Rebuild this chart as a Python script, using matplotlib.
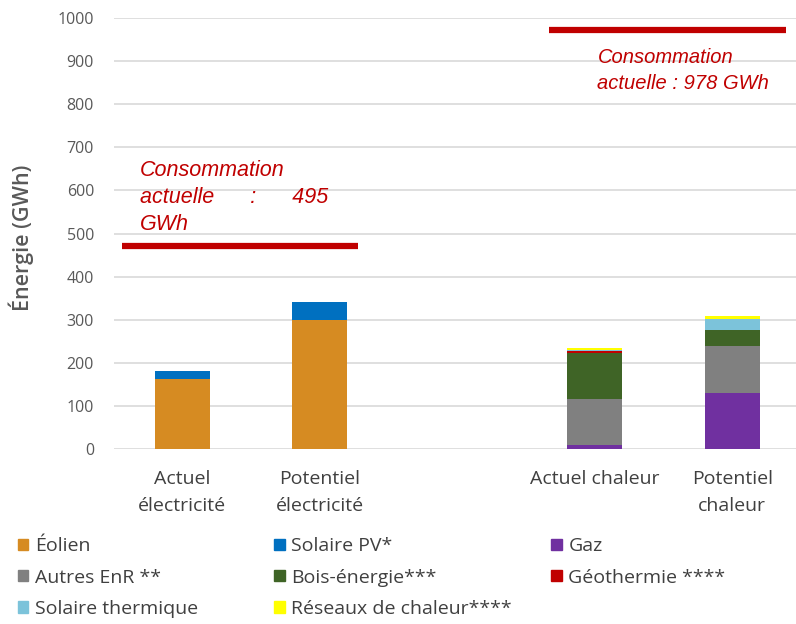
import matplotlib
matplotlib.use("Agg")
import matplotlib.pyplot as plt
import matplotlib.patches as mpatches

plt.rcParams["font.family"] = ["Open Sans", "DejaVu Sans"]

# categories (middle slot left empty, as in the original)
categories = ["Actuel\nélectricité", "Potentiel\nélectricité", "", "Actuel chaleur", "Potentiel\nchaleur"]
positions = [0, 1, 2, 3, 4]

series_names = ["Éolien", "Solaire PV*", "Gaz", "Autres EnR **", "Bois-énergie***",
                "Géothermie ****", "Solaire thermique", "Réseaux de chaleur****"]
series_colors = ["#D68B22", "#0070C0", "#7030A0", "#808080", "#3F6426",
                 "#C00000", "#7CC3DA", "#FFFF00"]

eolien      = [162, 299, 0, 0, 0]
solaire_pv  = [19, 41, 0, 0, 0]
gaz         = [0, 0, 0, 10, 131]
autres_enr  = [0, 0, 0, 106, 109]
bois        = [0, 0, 0, 106, 36]
geothermie  = [0, 0, 0, 5, 0]
sol_therm   = [0, 0, 0, 3, 26]
reseaux     = [0, 0, 0, 5, 6]
series_values = [eolien, solaire_pv, gaz, autres_enr, bois, geothermie, sol_therm, reseaux]

# consumption lines (drawn level, span in category units)
conso_elec = 472
conso_chal = 973
conso_elec_span = (-0.44, 1.28)
conso_chal_span = (2.67, 4.39)

fig = plt.figure(figsize=(7.96, 6.24), dpi=100)
ax = fig.add_axes([0.1426, 0.2804, 0.8574, 0.6907])

bottom = [0] * len(positions)
for name, color, vals in zip(series_names, series_colors, series_values):
    ax.bar(positions, vals, width=0.4, bottom=bottom, color=color, zorder=2)
    bottom = [b + v for b, v in zip(bottom, vals)]

ax.hlines(conso_elec, *conso_elec_span, color="#C00000", linewidth=4.5, zorder=3)
ax.hlines(conso_chal, *conso_chal_span, color="#C00000", linewidth=4.5, zorder=3)

red_font = dict(color="#C00000", style="italic", family=["Liberation Sans", "DejaVu Sans"])
ax.text(-0.31, 671, "Consommation\nactuelle      :      495\nGWh", ha="left", va="top",
        fontsize=15.5, linespacing=1.37, **red_font)
ax.text(3.02, 931, "Consommation\nactuelle : 978 GWh", ha="left", va="top",
        fontsize=14.5, linespacing=1.5, **red_font)

ax.set_xlim(-0.5, 4.464)
ax.set_ylim(0, 1000)
ax.set_yticks(range(0, 1001, 100))
ax.set_xticks(positions)
ax.set_xticklabels(categories, fontsize=14, color="#404040", linespacing=1.65)
ax.tick_params(axis="y", labelsize=11.5, labelcolor="#595959", length=0, pad=14)
ax.tick_params(axis="x", length=0, pad=15)
ax.yaxis.grid(True, color="#D9D9D9", linewidth=1.2, zorder=0)
ax.set_axisbelow(True)
for s in ax.spines.values():
    s.set_visible(False)
ax.set_ylabel("Énergie (GWh)", fontsize=15.5, color="#595959", fontweight="semibold")
ax.yaxis.set_label_coords(-0.116, 0.49)

handles = [mpatches.Patch(color=c, label=n) for n, c in zip(series_names, series_colors)]
leg_cols = [(0.0, [0, 3, 6]), (0.322, [1, 4, 7]), (0.67, [2, 5])]
for x0, idx in leg_cols:
    fig.legend(handles=[handles[i] for i in idx], loc="upper left", bbox_to_anchor=(x0, 0.167),
               frameon=False, fontsize=14, handlelength=0.55, handleheight=0.55,
               handletextpad=0.35, labelspacing=0.68, labelcolor="#404040")

fig.savefig("out.png", dpi=100)
